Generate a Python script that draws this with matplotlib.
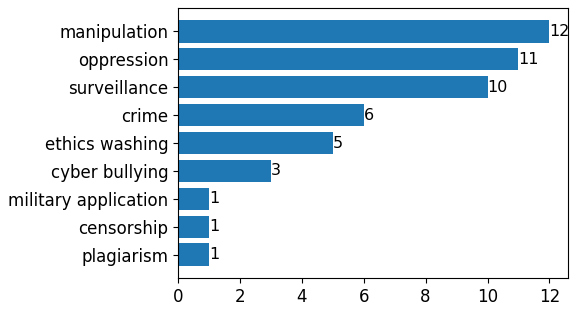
import matplotlib
matplotlib.use('Agg')
import matplotlib.pyplot as plt

categories = ['manipulation', 'oppression', 'surveillance', 'crime', 'ethics washing',
              'cyber bullying', 'military application', 'censorship', 'plagiarism']
counts = [12, 11, 10, 6, 5, 3, 1, 1, 1]

fig = plt.figure(figsize=(5.76, 3.11), dpi=100)
ax = fig.add_axes([178 / 576, 33 / 311, 390 / 576, 270 / 311])

cats = categories[::-1]
vals = counts[::-1]
bars = ax.barh(cats, vals, color='#1f77b4')
for b, v in zip(bars, vals):
    ax.text(b.get_width(), b.get_y() + b.get_height() / 2, str(v),
            va='center', ha='left', fontsize=11.5)
ax.tick_params(axis='both', labelsize=12)

fig.savefig('out.png', dpi=100)
